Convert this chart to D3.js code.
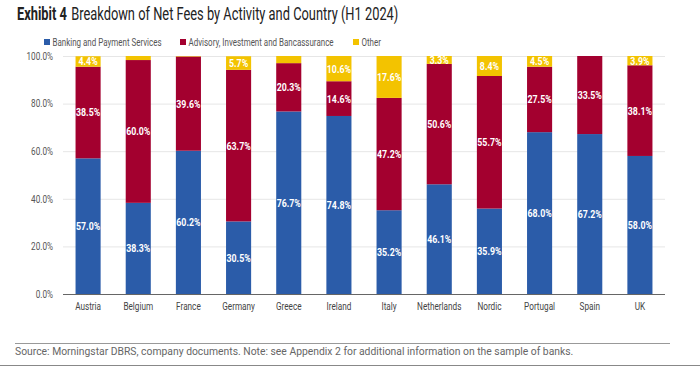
<!DOCTYPE html>
<html>
<head>
<meta charset="utf-8">
<script src="https://cdn.jsdelivr.net/npm/d3@7"></script>
<style>
  html, body { margin: 0; padding: 0; background: #fff; }
  svg { display: block; }
  svg text { font-family: Roboto, "Liberation Sans", sans-serif; }
</style>
</head>
<body>
<svg id="chart" width="700" height="366"></svg>
<script>
const categories = ["Austria","Belgium","France","Germany","Greece","Ireland","Italy","Netherlands","Nordic","Portugal","Spain","UK"];
const seriesNames = ["Banking and Payment Services","Advisory, Investment and Bancassurance","Other"];
const banking  = [57.0, 38.3, 60.2, 30.5, 76.7, 74.8, 35.2, 46.1, 35.9, 68.0, 67.2, 58.0];
const advisory = [38.5, 60.0, 39.6, 63.7, 20.3, 14.6, 47.2, 50.6, 55.7, 27.5, 33.5, 38.1];
const other    = [4.4, 1.7, 0.2, 5.7, 3.0, 10.6, 17.6, 3.3, 8.4, 4.5, 0.0, 3.9];
const yTicks = [0, 20, 40, 60, 80, 100];
const colors = ["#2b5ca9", "#a3002f", "#f3c300"];

const svg = d3.select("#chart");
const x = d3.scaleBand().domain(categories).range([63, 665]).paddingInner(0.5).paddingOuter(0.25);
const y = d3.scaleLinear().domain([0, 100]).range([294, 56]);

// horizontally condense text (reference uses a condensed face)
function cond(sel, sx) {
  sel.each(function () {
    const t = d3.select(this);
    const tx = +t.attr("x") || 0, ty = +t.attr("y") || 0;
    t.attr("x", 0).attr("y", 0).attr("transform", `translate(${tx},${ty}) scale(${sx},1)`);
  });
}

// Title
const title = svg.append("text").attr("x", 17).attr("y", 20).attr("font-size", 18).attr("fill", "#222");
title.append("tspan").attr("font-weight", "bold").text("Exhibit 4");
title.append("tspan").attr("dx", 6).text("Breakdown of Net Fees by Activity and Country (H1 2024)");
cond(title, 0.715);

// Legend
const legendX = [44, 180, 353];
const lg = svg.append("g");
seriesNames.forEach((s, i) => {
  lg.append("rect").attr("x", legendX[i]).attr("y", 39).attr("width", 6).attr("height", 6).attr("fill", colors[i]);
  const t = lg.append("text").attr("x", legendX[i] + 8.5).attr("y", 45.5).attr("font-size", 10.5).attr("fill", "#555").text(s);
  cond(t, 0.76);
});

// Gridlines
svg.append("g").selectAll("line").data(yTicks.filter(d => d > 0)).join("line")
  .attr("x1", 63).attr("x2", 665).attr("y1", d => y(d) + 0.5).attr("y2", d => y(d) + 0.5)
  .attr("stroke", "#e6e6e6").attr("stroke-width", 1);

// Y axis
const yAxis = d3.axisLeft(y).tickValues(yTicks).tickFormat(d => d.toFixed(1) + "%").tickSize(0).tickPadding(10);
const yg = svg.append("g").attr("transform", "translate(63,0)").call(yAxis);
yg.select(".domain").remove();
yg.selectAll("text").attr("font-size", 10.5).attr("fill", "#555").style("font-family", "Roboto, sans-serif");
cond(yg.selectAll("text"), 0.78);

// Stacked data
const rows = categories.map((c, i) => ({cat: c, s0: banking[i], s1: advisory[i], s2: other[i]}));
const stack = d3.stack().keys(["s0", "s1", "s2"]);
const layers = stack(rows);

const gBars = svg.append("g");
layers.forEach((layer, li) => {
  gBars.append("g").selectAll("rect").data(layer).join("rect")
    .attr("x", d => x(d.data.cat))
    .attr("width", x.bandwidth())
    .attr("y", d => y(Math.min(100, d[1])))
    .attr("height", d => Math.max(0, y(d[0]) - y(Math.min(100, d[1]))))
    .attr("fill", colors[li]);
});
layers.forEach((layer, li) => {
  const lbl = gBars.append("g").selectAll("text").data(layer.filter(d => (d[1] - d[0]) >= 3.2)).join("text")
    .attr("x", d => x(d.data.cat) + x.bandwidth() / 2)
    .attr("y", d => y((d[0] + Math.min(100, d[1])) / 2))
    .attr("dy", "0.36em")
    .attr("text-anchor", "middle")
    .attr("font-size", 11).attr("font-weight", "bold").attr("fill", "#fff")
    .text(d => (d[1] - d[0]).toFixed(1) + "%");
  cond(lbl, 0.8);
});

// X axis
const xAxis = d3.axisBottom(x).tickSize(0).tickPadding(9);
const xg = svg.append("g").attr("transform", "translate(0,294)").call(xAxis);
xg.select(".domain").attr("stroke", "#666").attr("d", "M63,0.5H665");
xg.selectAll("text").attr("font-size", 10.5).attr("fill", "#444").style("font-family", "Roboto, sans-serif");
cond(xg.selectAll("text"), 0.78);

// Source
svg.append("line").attr("x1", 15).attr("x2", 670).attr("y1", 343.5).attr("y2", 343.5).attr("stroke", "#999").attr("stroke-width", 1);
const src = svg.append("text").attr("x", 15).attr("y", 354.5).attr("font-size", 11.5).attr("fill", "#666")
  .text("Source: Morningstar DBRS, company documents. Note: see Appendix 2 for additional information on the sample of banks.");
cond(src, 0.9);
svg.append("line").attr("x1", 0).attr("x2", 700).attr("y1", 365.5).attr("y2", 365.5).attr("stroke", "#888").attr("stroke-width", 1);
</script>
</body>
</html>
